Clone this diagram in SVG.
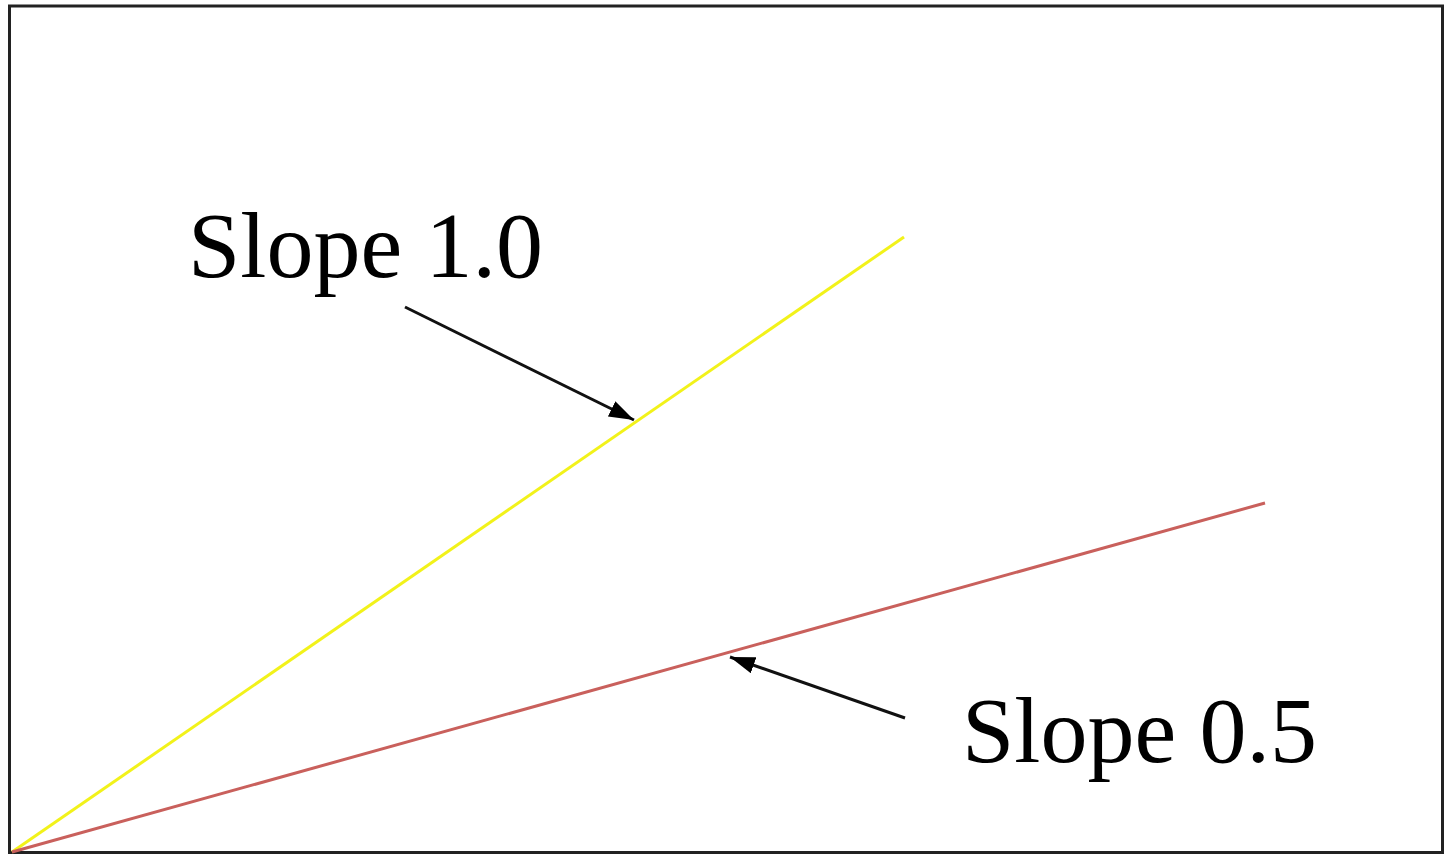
<svg xmlns="http://www.w3.org/2000/svg" width="1446" height="856" viewBox="0 0 1446 856">
  <style>
    .label { font-family: "Liberation Serif", "Times New Roman", serif; font-size: 94px; fill: #000; }
    .pointer { stroke: #111; stroke-width: 3; fill: none; marker-end: url(#head); }
  </style>
  <defs>
    <!-- filled triangular arrowhead, tip sits on the line end -->
    <marker id="head" viewBox="0 0 10 10" refX="10" refY="5" markerWidth="25" markerHeight="17" markerUnits="userSpaceOnUse" orient="auto" preserveAspectRatio="none">
      <path d="M0,0 L10,5 L0,10 z" fill="#000"/>
    </marker>
  </defs>
  <rect width="1446" height="856" fill="#fff"/>
  <!-- plot frame -->
  <rect id="frame" x="9.5" y="6" width="1433" height="846.5" fill="none" stroke="#222" stroke-width="3"/>
  <!-- the two slope lines from the origin -->
  <g id="line-slope-1">
    <line x1="12" y1="852" x2="904" y2="237" stroke="#f2f21a" stroke-width="3"/>
  </g>
  <g id="line-slope-05">
    <line x1="12" y1="852" x2="1265" y2="503" stroke="#c9605c" stroke-width="3"/>
  </g>
  <g id="label-slope-1">
    <text class="label" x="188" y="277">Slope 1.0</text>
  </g>
  <g id="label-slope-05">
    <text class="label" x="962" y="762">Slope 0.5</text>
  </g>
  <!-- pointers from labels to lines -->
  <g id="connectors">
    <line class="pointer" x1="405" y1="307" x2="634" y2="420"/>
    <line class="pointer" x1="905" y1="718" x2="730" y2="657"/>
  </g>
</svg>
